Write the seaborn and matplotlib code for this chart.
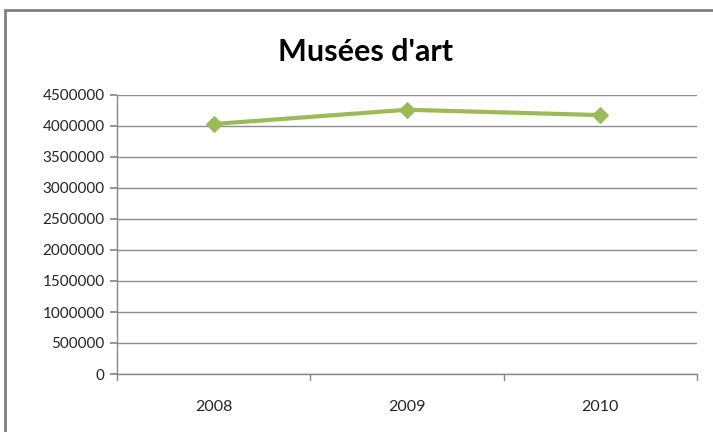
import matplotlib
matplotlib.use("Agg")
import matplotlib.pyplot as plt
import seaborn as sns
import pandas as pd
from matplotlib.patches import Rectangle

years = ["2008", "2009", "2010"]
visitors = [4032000, 4262000, 4176000]
y_ticks = [0, 500000, 1000000, 1500000, 2000000, 2500000, 3000000, 3500000, 4000000, 4500000]
title = "Musées d'art"

sns.set_theme(style="white")
plt.rcParams['font.family'] = ['Lato', 'DejaVu Sans']

df = pd.DataFrame({"year": years, "value": visitors})

fig = plt.figure(figsize=(7.13, 4.32), dpi=100)
ax = fig.add_axes([117/713, 1 - 374/432, (697-117)/713, (374-95)/432])

sns.lineplot(data=df, x="year", y="value", ax=ax, color="#9BBB59", linewidth=3,
             marker="D", markersize=8, markeredgecolor="#9BBB59", sort=False)

ax.set_xlim(-0.5, len(years) - 0.5)
ax.set_ylim(0, 4500000)
ax.set_yticks(y_ticks)
ax.set_yticklabels([str(v) for v in y_ticks], fontsize=11)
ax.set_xticks(range(len(years)))
ax.set_xticklabels(years, fontsize=11.5)
ax.tick_params(axis='x', length=0, pad=19)
ax.tick_params(axis='y', length=5, color="#888888", direction='out', left=True, pad=4)
ax.yaxis.grid(True, color="#8c8c8c", linewidth=1)
ax.set_axisbelow(True)
ax.set_xlabel("")
ax.set_ylabel("")
for s in ["top", "right"]:
    ax.spines[s].set_visible(False)
ax.spines["left"].set_color("#888888")
ax.spines["bottom"].set_color("#888888")
ax.spines["left"].set_linewidth(1)
ax.spines["bottom"].set_linewidth(1)

# category boundary tick marks (Excel style)
for b in [-0.5, 0.5, 1.5, 2.5]:
    ax.plot([b, b], [0, -0.02], transform=ax.get_xaxis_transform(), color="#888888",
            linewidth=1, clip_on=False)

fig.text(365/713, 1 - 52/432, title, ha="center", va="center", fontsize=22, fontweight="bold",
         color="#000000")

# outer chart border
fig.patches.append(Rectangle((5/713, -0.1), 2, 1 - 10/432 + 0.1, transform=fig.transFigure,
                             fill=False, edgecolor="#808080", linewidth=2))

fig.savefig("out.png", dpi=100)
